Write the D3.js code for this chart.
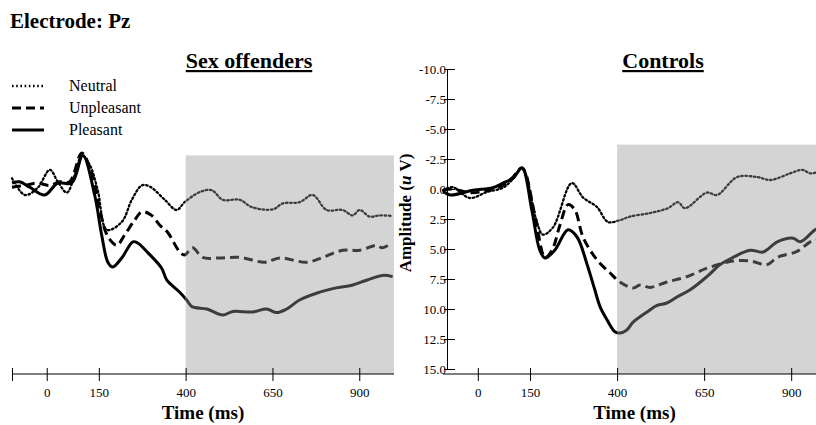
<!DOCTYPE html>
<html>
<head>
<meta charset="utf-8">
<script src="https://cdn.jsdelivr.net/npm/d3@7"></script>
<style>
body { margin: 0; background: #fff; }
text { font-family: "Liberation Serif", "Times New Roman", serif; fill: #000; }
</style>
</head>
<body>
<div id="drawing-area" style="width:816px;height:425px;"></div>
<script>
// ERP at Pz, [time ms, amplitude uV]; negative is drawn up
var soNeutral = [[-100,-0.9],[-63,0.5],[-26,-0.1],[9,-1.6],[32,-0.6],[58,0.3],[81,-1.2],[101,-2.8],[124,-2.0],[147,0.1],[173,3.4],[216,2.75],[245,0.9],[274,-0.3],[297,-0.2],[340,0.9],[374,1.75],[397,1.1],[441,0.25],[475,0.1],[507,0.9],[556,0.9],[590,1.5],[651,1.7],[680,1.2],[728,1.1],[766,0.5],[806,1.75],[852,1.75],[881,2.2],[901,1.75],[930,2.3],[959,2.2],[996,2.25]];
var soUnpleasant = [[-100,-0.15],[-63,-0.3],[-29,-0.5],[9,-0.3],[37,-0.6],[66,-0.6],[101,-3.0],[130,-1.2],[153,1.75],[170,3.6],[187,4.4],[202,4.7],[225,3.8],[253,2.6],[274,1.9],[302,2.2],[325,3.0],[348,3.6],[383,5.25],[397,5.5],[420,4.9],[449,5.7],[498,5.75],[556,5.7],[628,6.1],[671,5.75],[749,6.1],[795,5.7],[852,5.1],[901,5.1],[950,4.7],[967,4.9],[993,4.5]];
var soPleasant = [[-100,-0.5],[-78,-0.6],[-49,-0.15],[-6,0.5],[32,-0.5],[72,-0.5],[104,-2.8],[138,0.5],[158,3.8],[176,6.1],[190,6.5],[216,5.75],[248,4.4],[262,4.5],[291,5.3],[331,6.6],[346,7.6],[383,8.6],[403,9.25],[418,9.8],[461,10.0],[507,10.5],[536,10.2],[593,10.25],[633,10.0],[662,10.3],[691,10.0],[728,9.25],[786,8.6],[824,8.3],[881,8.0],[921,7.6],[967,7.2],[996,7.3]];

var ctNeutral = [[-100,0.1],[-72,-0.15],[-23,0.75],[26,0.25],[72,-0.1],[98,-0.75],[127,-1.75],[170,2.8],[187,3.8],[216,3.2],[270,-0.5],[302,0.7],[342,1.5],[374,2.75],[408,2.6],[437,2.3],[495,2.0],[546,1.6],[575,1.1],[595,1.6],[658,0.3],[687,0.5],[745,-1.0],[802,-1.0],[840,-0.75],[897,-1.3],[932,-1.6],[955,-1.3],[975,-1.4],[1000,-1.5]];
var ctUnpleasant = [[-100,0.1],[-72,0],[-23,0.3],[26,0.15],[72,-0.3],[98,-0.9],[127,-1.75],[164,2.2],[193,5.7],[213,5.1],[236,3.0],[259,1.3],[279,1.75],[302,4.0],[342,5.9],[380,7.0],[408,7.75],[446,8.25],[466,8.0],[495,8.2],[543,7.75],[601,7.3],[658,6.6],[704,6.2],[733,6.0],[782,6.0],[831,6.3],[860,5.7],[917,5.2],[955,4.4],[975,4.25],[1000,4.1]];
var ctPleasant = [[-100,0.15],[-80,0.5],[-14,0.1],[43,-0.1],[72,-0.5],[101,-0.9],[127,-1.75],[155,1.75],[178,5.1],[193,5.75],[221,5.1],[259,3.4],[285,4.0],[313,6.2],[336,8.4],[351,9.8],[371,10.9],[394,11.9],[408,12.0],[428,11.75],[446,11.1],[486,10.25],[515,9.7],[543,9.5],[572,9.0],[610,8.4],[658,7.3],[696,6.3],[733,5.7],[782,5.1],[819,5.25],[860,4.4],[906,4.1],[926,4.4],[969,3.4],[1000,3.0]];

var conditions = ["Neutral", "Unpleasant", "Pleasant"];
var xTicks = [0, 150, 400, 650, 900];
var yTicks = [-10, -7.5, -5, -2.5, 0, 2.5, 5, 7.5, 10, 12.5, 15];
var window400 = [400, 1000];   // shaded analysis window, ms
var shadeTopSO = -2.8, shadeTopCT = -3.7;

var styles = {
    Neutral:    { w: 2.3, dash: "1.6,2.6" },
    Unpleasant: { w: 3,   dash: "9,5" },
    Pleasant:   { w: 3,   dash: null }
};

var sx = 816, sy = 425;
var svg = d3.select('#drawing-area').append('svg').attr('width', sx).attr('height', sy);

var axisY = 374;
var y = d3.scaleLinear().domain([-10, 15]).range([69, 369]);

svg.append("text").attr("x", 10).attr("y", 28)
    .style("font-size", "21px").style("font-weight", "bold").text("Electrode: Pz");

// legend
conditions.forEach(function (c, i) {
    var ly = 86 + i * 22;
    svg.append("line").attr("x1", 12).attr("x2", 44).attr("y1", ly).attr("y2", ly)
        .attr("stroke", "#000").attr("stroke-width", styles[c].w)
        .attr("stroke-dasharray", styles[c].dash);
    svg.append("text").attr("x", 69).attr("y", ly + 5)
        .style("font-size", "16px").text(c);
});

function panel(id, x0, x1, title, titleX, data, shadeTop, endTick) {
    var x = d3.scaleLinear().domain([-100, 1000]).range([x0, x1]);
    var g = svg.append("g");

    g.append("rect")
        .attr("x", x(window400[0])).attr("y", y(shadeTop))
        .attr("width", x(window400[1]) - x(window400[0]))
        .attr("height", axisY - y(shadeTop))
        .attr("fill", "#d4d4d4");

    var defs = svg.append("defs");
    defs.append("clipPath").attr("id", id + "-pre").append("rect")
        .attr("x", 0).attr("y", 0).attr("width", x(window400[0])).attr("height", sy);
    defs.append("clipPath").attr("id", id + "-win").append("rect")
        .attr("x", x(window400[0])).attr("y", 0).attr("width", sx).attr("height", sy);

    var line = d3.line().x(function (d) { return x(d[0]); }).y(function (d) { return y(d[1]); })
        .curve(d3.curveCatmullRom.alpha(0.5));

    conditions.forEach(function (c) {
        [["pre", "#000"], ["win", "#3d3d3d"]].forEach(function (p) {
            g.append("path").datum(data[c])
                .attr("clip-path", "url(#" + id + "-" + p[0] + ")")
                .attr("d", line)
                .attr("fill", "none")
                .attr("stroke", p[1])
                .attr("stroke-width", styles[c].w)
                .attr("stroke-linecap", c == "Neutral" ? "round" : "butt")
                .attr("stroke-dasharray", styles[c].dash);
        });
    });

    // time axis
    var ticks = endTick ? [-100].concat(xTicks) : xTicks;
    var ax = g.append("g").attr("transform", "translate(0," + axisY + ")")
        .call(d3.axisBottom(x).tickValues(ticks).tickSize(7).tickPadding(7)
            .tickFormat(function (d) { return d < 0 ? "" : d; }));
    ax.select(".domain").attr("d", "M" + x.range()[0] + ",0H" + Math.min(x.range()[1], sx));
    ax.selectAll(".tick line").attr("y1", -6).attr("stroke", "#000");
    ax.selectAll(".tick text").style("font-size", "13px")
        .style("font-family", "'Liberation Serif', serif");

    var mid = (x(0) + x(900)) / 2;
    g.append("text").attr("x", mid).attr("y", 419).attr("text-anchor", "middle")
        .style("font-size", "19px").style("font-weight", "bold").text("Time (ms)");

    g.append("text").attr("x", titleX).attr("y", 68).attr("text-anchor", "middle")
        .style("font-size", "22px").style("font-weight", "bold")
        .style("text-decoration", "underline").text(title);
    return x;
}

panel("so", 12, 394, "Sex offenders", 249,
    { Neutral: soNeutral, Unpleasant: soUnpleasant, Pleasant: soPleasant }, shadeTopSO, true);
panel("ct", 443, 826, "Controls", 663,
    { Neutral: ctNeutral, Unpleasant: ctUnpleasant, Pleasant: ctPleasant }, shadeTopCT, false);

// amplitude axis (shared scale, drawn left of Controls)
var ya = svg.append("g").attr("transform", "translate(447,0)")
    .call(d3.axisLeft(y).tickValues(yTicks).tickSizeInner(-8).tickSizeOuter(0).tickPadding(1)
        .tickFormat(function (d) { return d3.format(".1f")(d).replace("\u2212", "-"); }));
ya.selectAll(".tick line").attr("x1", -3).attr("stroke", "#000");
ya.select(".domain").attr("stroke", "#000");
ya.selectAll(".tick text").style("font-size", "13px")
    .style("font-family", "'Liberation Serif', serif");

var at = svg.append("text").attr("transform", "translate(411,213) rotate(-90)")
    .attr("text-anchor", "middle").style("font-size", "17px").style("font-weight", "bold");
at.append("tspan").text("Amplitude (");
at.append("tspan").style("font-style", "italic").text("u");
at.append("tspan").text(" V)");
</script>
</body>
</html>
